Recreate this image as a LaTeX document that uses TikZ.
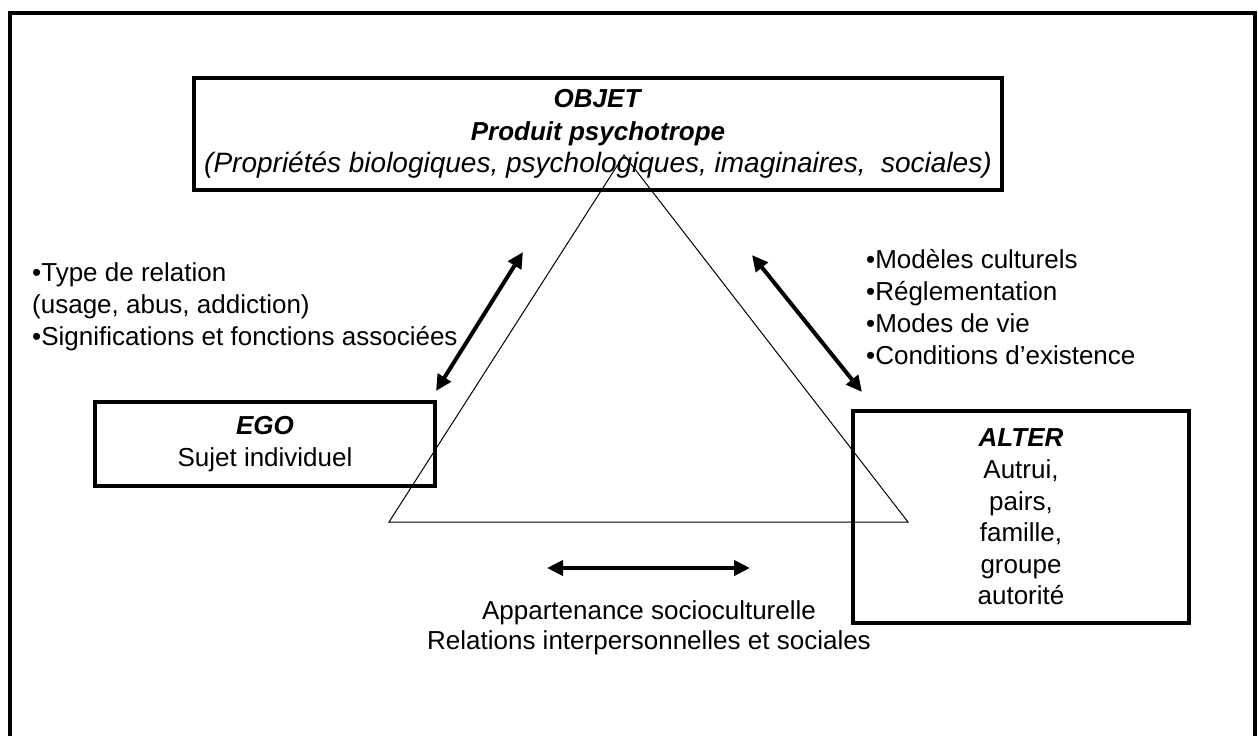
\documentclass[tikz,border=0pt]{standalone}
\usepackage{fontspec}
\setmainfont{Liberation Sans}
\usetikzlibrary{arrows.meta}
\begin{document}
\begin{tikzpicture}[x=1pt,y=-1pt,
  frame/.style={line width=3.5pt},
  box/.style={draw, line width=4pt, align=center, inner sep=0pt, font=\fontsize{26}{32}\selectfont},
  txt/.style={align=left, inner sep=0pt, font=\fontsize{26}{32}\selectfont},
  tri/.style={line width=1pt, line join=miter},
  dbl/.style={line width=4pt, {Triangle[length=16pt,width=15pt]}-{Triangle[length=16pt,width=15pt]}}]
\useasboundingbox (0,0) rectangle (1258,736);
\draw[frame] (10,740) -- (10,13) -- (1255,13) -- (1255,740);
% boxes
\node[box, minimum width=808pt, minimum height=112pt] (objet) at (598,134)
  {\textbf{\textit{OBJET}}\\[0.5pt] \textbf{\textit{Produit psychotrope}}\\[0.5pt] {\fontsize{28}{32}\selectfont\textit{(Propriétés biologiques, psychologiques, imaginaires,\ \ sociales)}}};
\node[box, minimum width=340pt, minimum height=84pt] (ego) at (265,444)
  {\textbf{\textit{EGO}}\\ Sujet individuel};
\node[box, minimum width=336pt, minimum height=212pt, font=\fontsize{26}{31.6}\selectfont] (alter) at (1021,517)
  {\textbf{\textit{ALTER}}\\ Autrui,\\ pairs,\\ famille,\\ groupe\\ autorité};
% triangle
\coordinate (apex) at (624,155);
\coordinate (bl) at (389,522);
\coordinate (br) at (908,522);
\draw[tri] (apex) -- (bl) -- (br) -- cycle;
% labels
\node[txt, anchor=west] (lefttxt) at (32,307)
  {•Type de relation\\ (usage, abus, addiction)\\ •Significations et fonctions associées};
\node[txt, anchor=west] (righttxt) at (866,307)
  {•Modèles culturels\\ •Réglementation\\ •Modes de vie\\ •Conditions d’existence};
\node[txt, align=center, font=\fontsize{26}{30}\selectfont] (bottxt) at (649,628)
  {Appartenance socioculturelle\\ Relations interpersonnelles et sociales};
% arrows
\coordinate (la1) at (523,252);
\coordinate (la2) at (436,391);
\coordinate (ra1) at (752,255);
\coordinate (ra2) at (862,392);
\coordinate (ba1) at (547,568);
\coordinate (ba2) at (750,568);
\draw[dbl] (la1) -- (la2);
\draw[dbl] (ra1) -- (ra2);
\draw[dbl] (ba1) -- (ba2);
\end{tikzpicture}
\end{document}
